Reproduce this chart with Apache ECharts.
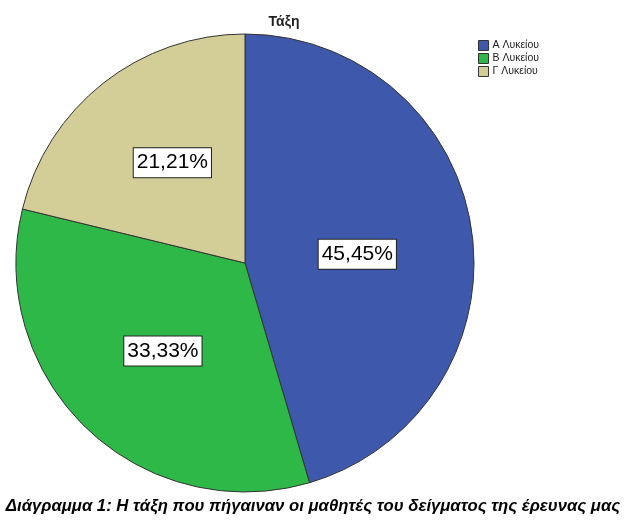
<!DOCTYPE html>
<html>
<head>
<meta charset="utf-8">
<script src="https://cdn.jsdelivr.net/npm/echarts@6/dist/echarts.min.js"></script>
<style>html,body{margin:0;padding:0;background:#fff}#c{width:626px;height:525px}</style>
</head>
<body>
<div id="c"></div>
<script>
var categories = ['Α Λυκείου', 'Β Λυκείου', 'Γ Λυκείου'];
var values = [15, 11, 7];
var percentLabels = ['45,45%', '33,33%', '21,21%'];
var colors = ['#3E58AC', '#2EB848', '#D3CE97'];
var chartTitle = 'Τάξη';
var caption = 'Διάγραμμα 1: Η τάξη που πήγαιναν οι μαθητές του δείγματος της έρευνας μας';

var labelOffsets = [[-4, 8], [-1, 3], [0, -8]];

var chart = echarts.init(document.getElementById('c'));
chart.setOption({
  animation: false,
  title: {
    text: chartTitle,
    left: 279, top: 10, textAlign: 'center',
    textStyle: {fontFamily: 'Liberation Sans', fontSize: 14, fontWeight: 'bold', color: '#222'}
  },
  legend: {
    orient: 'vertical', left: 473, top: 35,
    itemWidth: 10, itemHeight: 10, itemGap: 2,
    icon: 'rect',
    textStyle: {fontFamily: 'Liberation Sans', fontSize: 10.5, color: '#222', padding: [0,0,0,-1]},
    itemStyle: {borderColor: '#333', borderWidth: 1},
    data: categories
  },
  graphic: [{
    type: 'text', left: 'center', top: 498,
    style: {text: caption, fontFamily: 'Liberation Sans', fontSize: 16.7, fontWeight: 'bold', fontStyle: 'italic', fill: '#000'}
  }],
  series: [{
    type: 'pie',
    center: [245, 263], radius: 229,
    startAngle: 90, clockwise: true,
    emphasis: {disabled: true},
    itemStyle: {borderColor: '#333', borderWidth: 1},
    label: {
      show: true, position: 'inside',
      formatter: function (p) { return percentLabels[p.dataIndex]; },
      fontFamily: 'Liberation Sans', fontSize: 21, color: '#000',
      backgroundColor: '#fff', borderColor: '#222', borderWidth: 1,
      padding: [5, 3, 3, 3]
    },
    labelLine: {show: false},
    data: categories.map(function (c, i) {
      return {name: c, value: values[i], itemStyle: {color: colors[i]}, label: {offset: labelOffsets[i]}};
    })
  }]
});
</script>
</body>
</html>
